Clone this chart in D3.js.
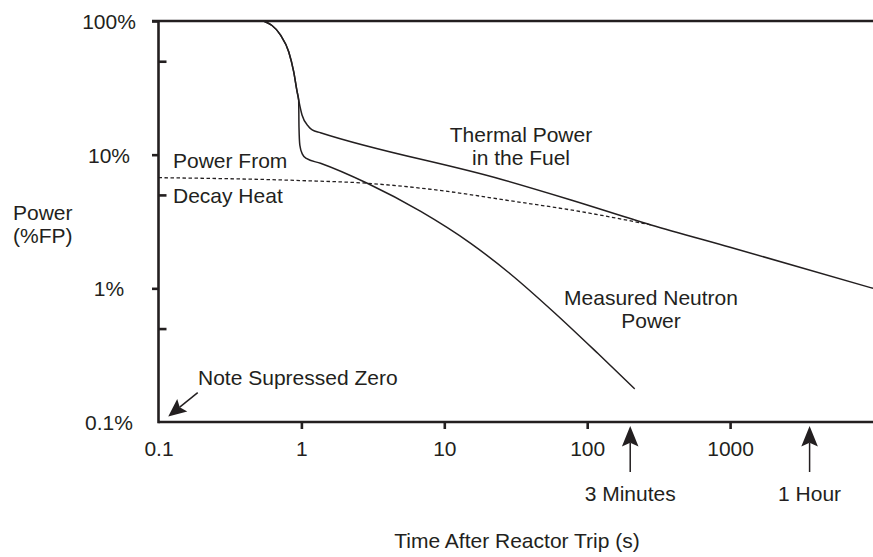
<!DOCTYPE html>
<html>
<head>
<meta charset="utf-8">
<script src="https://cdn.jsdelivr.net/npm/d3@7/dist/d3.min.js"></script>
<style>
  html, body { margin: 0; padding: 0; background: #fff; }
  svg text { font-family: "Liberation Sans", Arial, Helvetica, sans-serif; fill: #231f20; }
</style>
</head>
<body>
<svg id="chart" width="873" height="557"></svg>
<script>
// Time after trip (s) and power (%FP) for each trace
const thermalTime  = [0.544, 0.713, 0.815, 0.883, 0.933, 1.01, 1.125, 1.19, 1.36, 24.9, 77, 280, 1000, 10000];
const thermalPower = [100, 78.6, 58.9, 41.8, 29.6, 19.8, 16.2, 15.3, 14.6, 6.55, 4.58, 2.98, 2.03, 1.0];

const neutronTime  = [0.544, 0.713, 0.815, 0.883, 0.933, 0.957, 0.962, 0.975, 1.016, 1.083, 1.36, 2.89, 6.84, 15.3, 29.3, 59, 119, 215];
const neutronPower = [100, 78.6, 58.9, 41.8, 29.6, 25.6, 16, 11.8, 10.1, 9.37, 8.63, 6.11, 3.76, 2.17, 1.27, 0.657, 0.325, 0.177];

const decayTime  = [0.1, 1, 2.89, 10, 26, 90, 280];
const decayPower = [6.73, 6.4, 6.11, 5.35, 4.6, 3.75, 2.98];

// Axis ticks
const xTickValues = [0.1, 1, 10, 100, 1000];
const xTickLabels = ["0.1", "1", "10", "100", "1000"];
const yTickValues = [100, 10, 1, 0.1];
const yTickLabels = ["100%", "10%", "1%", "0.1%"];
const yMinorTicks = [50, 5, 0.5];

// Time markers below the axis
const markerTimes  = [200, 3600];
const markerLabels = ["3 Minutes", "1 Hour"];

const ink = "#231f20";
const fontSize = 21;
const svg = d3.select("#chart");

const x = d3.scaleLog().domain([0.1, 10000]).range([158.5, 873]);
const y = d3.scaleLog().domain([0.1, 100]).range([422, 21]);

// Frame: left axis, bottom axis, top border
const frame = svg.append("g").attr("stroke", ink).attr("stroke-width", 2.6).attr("fill", "none");
frame.append("line").attr("x1", x(0.1)).attr("x2", x(0.1)).attr("y1", y(100)).attr("y2", y(0.1) + 1.3);
frame.append("line").attr("x1", x(0.1)).attr("x2", x(10000)).attr("y1", y(0.1)).attr("y2", y(0.1));
frame.append("line").attr("x1", x(0.1) - 6.5).attr("x2", x(10000)).attr("y1", y(100)).attr("y2", y(100));

// Bottom axis
const xAxis = d3.axisBottom(x)
  .tickValues(xTickValues)
  .tickFormat((d, i) => xTickLabels[i])
  .tickSizeInner(7).tickSizeOuter(0).tickPadding(12);
const gx = svg.append("g").attr("transform", `translate(0,${y(0.1)})`).call(xAxis);
gx.select(".domain").remove();
gx.selectAll(".tick line").attr("stroke", ink).attr("stroke-width", 2.6)
  .filter(d => d === 0.1).remove();
gx.selectAll(".tick text").attr("font-size", fontSize).attr("fill", ink).attr("font-family", null);

// Left axis: major ticks outward, labels centred
const yAxis = d3.axisLeft(y)
  .tickValues(yTickValues)
  .tickFormat((d, i) => yTickLabels[i])
  .tickSizeInner(6.5).tickSizeOuter(0);
const gy = svg.append("g").attr("transform", `translate(${x(0.1)},0)`).call(yAxis);
gy.select(".domain").remove();
gy.selectAll(".tick line").attr("stroke", ink).attr("stroke-width", 2.6)
  .filter(d => d === 0.1).remove();
gy.selectAll(".tick text")
  .attr("font-size", fontSize).attr("fill", ink).attr("font-family", null)
  .attr("text-anchor", "middle").attr("x", 109 - x(0.1)).attr("dy", "0.36em");

// Minor ticks point into the plot
const gyMinor = svg.append("g").attr("transform", `translate(${x(0.1)},0)`)
  .call(d3.axisRight(y).tickValues(yMinorTicks).tickFormat("").tickSizeInner(8).tickSizeOuter(0));
gyMinor.select(".domain").remove();
gyMinor.selectAll(".tick line").attr("stroke", ink).attr("stroke-width", 2.6);

// Traces
const line = d3.line().x(d => x(d[0])).y(d => y(d[1])).curve(d3.curveMonotoneX);
const zip = (t, p) => t.map((v, i) => [v, p[i]]);

svg.append("path").datum(zip(decayTime, decayPower))
  .attr("d", line).attr("fill", "none").attr("stroke", ink)
  .attr("stroke-width", 1.3).attr("stroke-dasharray", "3.5,2.5");
svg.append("path").datum(zip(neutronTime, neutronPower))
  .attr("d", line).attr("fill", "none").attr("stroke", ink).attr("stroke-width", 1.5);
svg.append("path").datum(zip(thermalTime, thermalPower))
  .attr("d", line).attr("fill", "none").attr("stroke", ink).attr("stroke-width", 1.5);

// Arrow: shaft from tail to tip with a filled, notched head
function arrow(x0, y0, x1, y1, headLen = 20.5, headHalf = 8.3) {
  const a = Math.atan2(y1 - y0, x1 - x0);
  const ux = Math.cos(a), uy = Math.sin(a), px = -uy, py = ux;
  const bx = x1 - ux * headLen, by = y1 - uy * headLen;
  const nx = x1 - ux * headLen * 0.82, ny = y1 - uy * headLen * 0.82;
  svg.append("line").attr("x1", x0).attr("y1", y0).attr("x2", nx).attr("y2", ny)
    .attr("stroke", ink).attr("stroke-width", 1.5);
  svg.append("path")
    .attr("d", `M${x1},${y1}L${bx + px * headHalf},${by + py * headHalf}L${nx},${ny}L${bx - px * headHalf},${by - py * headHalf}Z`)
    .attr("fill", ink);
}

markerTimes.forEach((t, i) => {
  arrow(x(t), 472, x(t), 426);
  svg.append("text").attr("x", x(t)).attr("y", 501).attr("text-anchor", "middle")
    .attr("font-size", fontSize).text(markerLabels[i]);
});

// Suppressed-zero note
arrow(197.7, 392.7, x(0.117), y(0.11), 18, 8);
svg.append("text").attr("x", 198).attr("y", 385).attr("font-size", fontSize).text("Note Supressed Zero");

// Axis titles
svg.append("text").attr("x", 517).attr("y", 548).attr("text-anchor", "middle")
  .attr("font-size", fontSize).text("Time After Reactor Trip (s)");
const yTitle = svg.append("text").attr("x", 13).attr("y", 220).attr("font-size", fontSize);
yTitle.append("tspan").attr("x", 13).text("Power");
yTitle.append("tspan").attr("x", 13).attr("dy", 23).text("(%FP)");

// Trace labels
function label(cx, yb, lines, anchor = "middle") {
  const t = svg.append("text").attr("font-size", fontSize).attr("text-anchor", anchor);
  lines.forEach((s, i) => t.append("tspan").attr("x", cx).attr("y", yb + i * 23.5).text(s));
}
label(521, 141.7, ["Thermal Power", "in the Fuel"]);
label(651, 304.5, ["Measured Neutron", "Power"]);
label(173, 168.3, ["Power From"], "start");
label(173, 203.3, ["Decay Heat"], "start");
</script>
</body>
</html>
